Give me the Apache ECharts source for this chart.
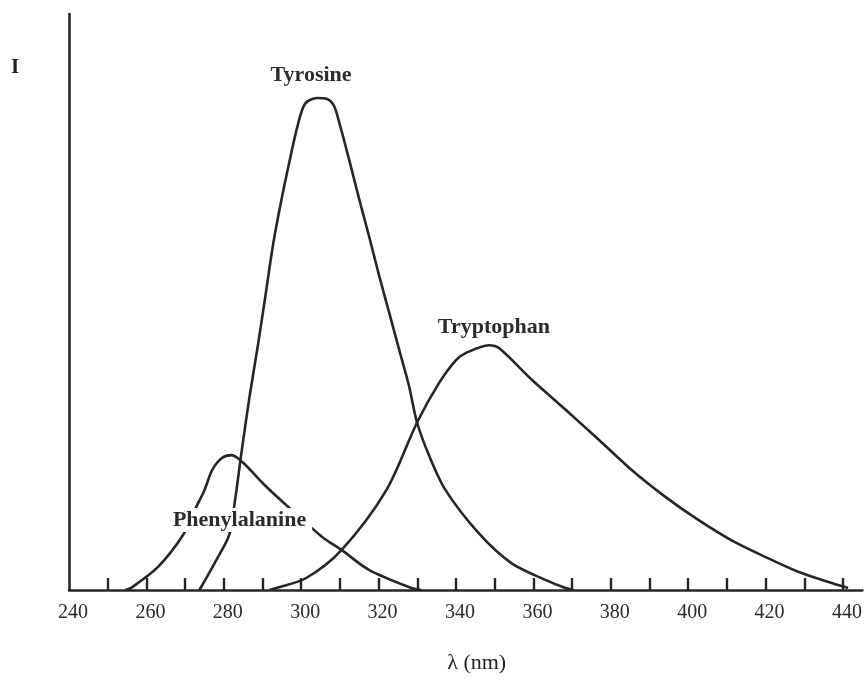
<!DOCTYPE html>
<html>
<head>
<meta charset="utf-8">
<title>Fluorescence emission of aromatic amino acids</title>
<script src="https://cdn.jsdelivr.net/npm/echarts@6/dist/echarts.min.js"></script>
<style>
  html, body { margin: 0; padding: 0; background: #fff; }
  #chart { width: 865px; height: 684px; }
</style>
</head>
<body>
<div id="chart"></div>
<script>
  // wavelength ticks (nm)
  var xLabels = [240, 260, 280, 300, 320, 340, 360, 380, 400, 420, 440];
  var xTicks = [250, 260, 270, 280, 290, 300, 310, 320, 330, 340, 350, 360, 370, 380, 390, 400, 410, 420, 430, 440];

  // emission curves (arbitrary intensity units)
  var pheX = [254.5, 256, 263, 269.5, 272.5, 275, 277, 279.5, 282, 285, 291, 297.5, 305.5, 310.5, 317.5, 328.5, 331];
  var pheI = [0, 0.4, 4.8, 11.5, 16.7, 20.8, 25, 27.5, 28.1, 26.5, 21.5, 16.7, 11, 8.3, 4.2, 0.4, 0];

  var tyrX = [273.7, 278.1, 281.4, 282.8, 284.6, 286.6, 288.7, 290.7, 292.8, 294.9, 296.9, 299, 301, 304.1, 306.7, 308.5, 310, 312.4,
              314.9, 317.5, 320.1, 322.7, 325.2, 327.8, 329.9, 333, 337.3, 345.8, 354.3, 363.1, 368.3, 370.3];
  var tyrI = [0, 6.3, 11.5, 18.1, 28.8, 40, 50.4, 61, 72.3, 81.3, 89, 96.5, 101.3, 102.5, 102.3, 100.8, 96.9, 89.6,
              81.7, 73.8, 65.6, 57.9, 50.4, 42.7, 35, 28.1, 20.8, 11.9, 5.6, 2.1, 0.4, 0];

  var trpX = [291.8, 293.6, 301.3, 310.4, 322, 330, 335.6, 340, 342.6, 348.5, 351.1, 359.6, 368.4, 376.9, 385.4, 394.1, 402.6, 411.1, 419.9, 428.4, 436.9, 441.3];
  var trpI = [0, 0.4, 2.5, 8.3, 20.8, 35, 43.1, 47.9, 49.4, 51, 50.4, 43.8, 37.5, 31.3, 25, 19.4, 14.6, 10.4, 6.9, 3.8, 1.5, 0.4];

  var ink = '#262626';
  var serif = 'Liberation Serif';

  function pairs(xs, ys) {
    return xs.map(function (x, i) { return [x, ys[i]]; });
  }

  function peak(xs, ys) {
    var k = 0;
    for (var i = 1; i < ys.length; i++) {
      if (ys[i] > ys[k]) k = i;
    }
    return [xs[k], ys[k]];
  }

  function curve(name, xs, ys, offset, bg) {
    return {
      name: name,
      type: 'line',
      data: pairs(xs, ys),
      smooth: 0.3,
      symbol: 'none',
      lineStyle: { color: ink, width: 2.6 },
      markPoint: {
        symbol: 'circle',
        symbolSize: 1,
        itemStyle: { color: 'rgba(0,0,0,0)' },
        label: {
          show: true,
          formatter: name,
          position: 'inside',
          offset: offset,
          color: '#2b2b2b',
          fontFamily: serif,
          fontWeight: 'bold',
          fontSize: 22,
          backgroundColor: bg,
          padding: [1, 6]
        },
        data: [{ coord: peak(xs, ys) }]
      }
    };
  }

  var myChart = echarts.init(document.getElementById('chart'));

  var option = {
    animation: false,
    backgroundColor: '#fff',
    title: {
      text: 'I',
      left: 6,
      top: 52,
      textStyle: { fontFamily: serif, fontWeight: 'bold', fontSize: 21, color: '#222' }
    },
    grid: { left: 69, right: 0, top: 14, bottom: 94 },
    xAxis: {
      type: 'value',
      min: 240,
      max: 445,
      name: 'λ (nm)',
      nameLocation: 'middle',
      nameGap: 62,
      nameTextStyle: { fontFamily: serif, fontSize: 22, color: '#222', padding: [0, 0, 0, 22] },
      axisLine: { show: true, onZero: false, lineStyle: { color: ink, width: 2.6 } },
      axisTick: { show: true, inside: true, length: 12, customValues: xTicks, lineStyle: { color: ink, width: 2.4 } },
      axisLabel: { customValues: xLabels, margin: 13, fontFamily: serif, fontSize: 20, color: '#2a2a2a', padding: [0, 0, 0, 8] },
      splitLine: { show: false }
    },
    yAxis: {
      type: 'value',
      min: 0,
      max: 120,
      axisLine: { show: true, lineStyle: { color: ink, width: 2.6 } },
      axisTick: { show: false },
      axisLabel: { show: false },
      splitLine: { show: false }
    },
    series: [
      curve('Phenylalanine', pheX, pheI, [8, 65], '#fff'),
      curve('Tyrosine', tyrX, tyrI, [-6, -23], 'transparent'),
      curve('Tryptophan', trpX, trpI, [5, -18], 'transparent')
    ]
  };

  myChart.setOption(option);
</script>
</body>
</html>
